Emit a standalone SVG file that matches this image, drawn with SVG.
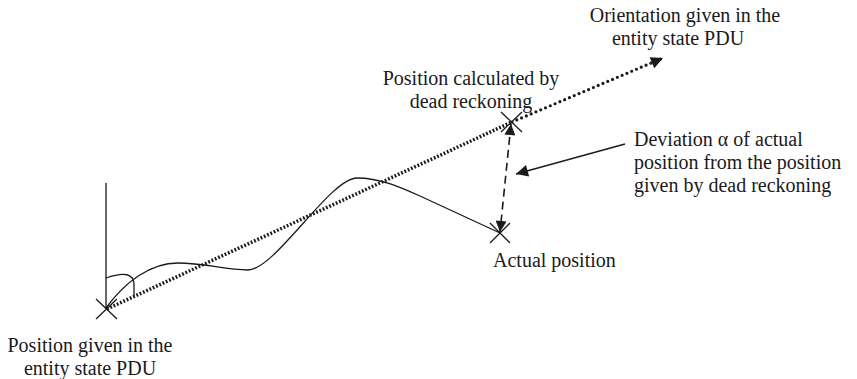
<svg xmlns="http://www.w3.org/2000/svg" width="857" height="379" viewBox="0 0 857 379">
<style>
text{font-family:"Liberation Serif","Times New Roman",serif;font-size:20px;fill:#1a1a1a}
.thin{fill:none;stroke:#1a1a1a;stroke-width:1.3}
.dot1{fill:none;stroke:#1a1a1a;stroke-width:3.5;stroke-dasharray:1.8 1.8}
.dot2{fill:none;stroke:#1a1a1a;stroke-width:3.2;stroke-linecap:round;stroke-dasharray:0 5.2}
.dash{fill:none;stroke:#1a1a1a;stroke-width:1.6;stroke-dasharray:8 5}
</style>
<defs>
<marker id="ah" viewBox="0 0 10 10" refX="10" refY="5" markerWidth="15" markerHeight="12" markerUnits="userSpaceOnUse" orient="auto-start-reverse"><path d="M0,0 L10,5 L0,10 z" fill="#1a1a1a"/></marker>
<marker id="ahs" viewBox="0 0 10 10" refX="10" refY="5" markerWidth="13" markerHeight="11" markerUnits="userSpaceOnUse" orient="auto-start-reverse"><path d="M0,0 L10,5 L0,10 z" fill="#1a1a1a"/></marker>
</defs>
<g id="connectors">
<line class="thin" x1="106" y1="183" x2="106" y2="309"/>
<path class="thin" d="M106,278 Q134,268 134,285 L134,297"/>
<path class="thin" d="M106,308 C125,282 150,263 178,263 C205,263 225,270 248,270 C275,270 330,178 357,178 C380,178 400,187 420,196 L500,233"/>
<line class="dot1" x1="107" y1="309" x2="512" y2="122"/>
<line class="dot2" x1="512" y1="122" x2="663" y2="58" marker-end="url(#ah)"/>
<line class="dash" x1="511" y1="124" x2="500" y2="232" marker-start="url(#ahs)" marker-end="url(#ahs)"/>
<line class="thin" x1="625" y1="144" x2="516" y2="174" stroke-width="1.5" marker-end="url(#ah)"/>
</g>
<g id="start-position">
<path class="thin" d="M96,299 L117,319 M96,319 L117,299"/>
<text x="90" y="352" text-anchor="middle">Position given in the</text>
<text x="90" y="375" text-anchor="middle">entity state PDU</text>
</g>
<g id="calculated-position">
<path class="thin" d="M501,112 L522,132 M501,132 L522,112"/>
<text x="471" y="85" text-anchor="middle">Position calculated by</text>
<text x="471" y="108" text-anchor="middle">dead reckoning</text>
</g>
<g id="actual-position">
<path class="thin" d="M490,223 L510,243 M490,243 L510,223"/>
<text x="493" y="267">Actual position</text>
</g>
<g id="orientation">
<text x="685" y="22" text-anchor="middle">Orientation given in the</text>
<text x="678" y="45" text-anchor="middle">entity state PDU</text>
</g>
<g id="deviation">
<text x="634" y="146">Deviation α of actual</text>
<text x="634" y="169">position from the position</text>
<text x="634" y="192">given by dead reckoning</text>
</g>
</svg>
